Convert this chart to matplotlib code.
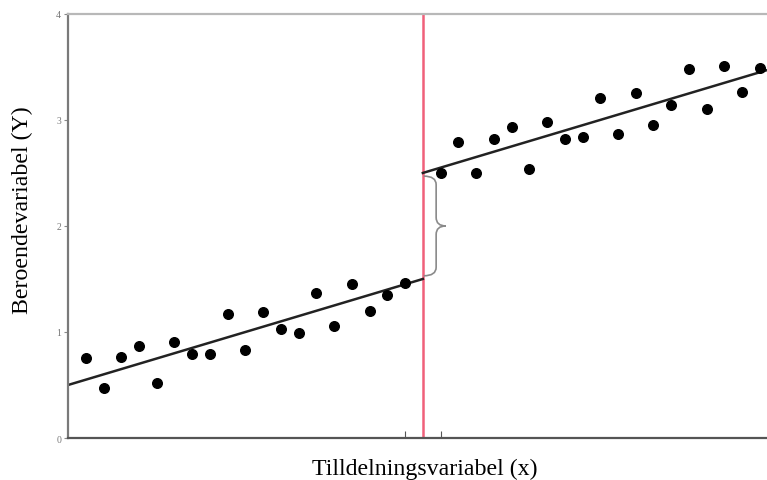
import numpy as np
import matplotlib
matplotlib.use("Agg")
import matplotlib.pyplot as plt
from matplotlib.path import Path
from matplotlib.patches import PathPatch

# data
x_left = np.arange(1, 20)
y_left = [0.75, 0.47, 0.76, 0.87, 0.52, 0.91, 0.79, 0.79, 1.17, 0.83,
          1.19, 1.03, 0.99, 1.37, 1.06, 1.45, 1.20, 1.35, 1.46]
x_right = np.arange(21, 40)
y_right = [2.50, 2.79, 2.50, 2.82, 2.93, 2.54, 2.98, 2.82, 2.84, 3.21,
           2.87, 3.25, 2.95, 3.14, 3.48, 3.10, 3.51, 3.26, 3.49]

cutoff = 20
x_max = 39.4
fit_left = [0.5, 1.5]      # line values at x=0 and at cutoff
fit_right = [2.5, 3.47]    # line values at cutoff and at x_max
y_ticks = [0, 1, 2, 3, 4]
x_ticks = [19, 21]

plt.rcParams['font.family'] = ['Liberation Serif', 'DejaVu Serif']

fig = plt.figure(figsize=(7.67, 4.81), dpi=100)
ax = fig.add_axes([0.0887, 0.0873, 0.9113, 0.8817])

ax.scatter(x_left, y_left, s=48, color='black', zorder=3)
ax.scatter(x_right, y_right, s=48, color='black', zorder=3)
ax.plot([0, cutoff], fit_left, color='#222222', lw=1.8, zorder=2)
ax.plot([cutoff, x_max], fit_right, color='#222222', lw=1.8, zorder=2)
ax.axvline(cutoff, color='#f0607a', lw=1.8, zorder=1)

# curly brace between the two fitted lines at the cutoff
y0, y1 = fit_left[1] + 0.03, fit_right[0] - 0.03
ym = (y0 + y1) / 2
xa, xb, xc = cutoff + 0.05, cutoff + 0.75, cutoff + 1.3
codes = [Path.MOVETO, Path.CURVE3, Path.CURVE3, Path.LINETO,
         Path.LINETO, Path.CURVE3, Path.CURVE3, Path.CURVE3,
         Path.CURVE3, Path.LINETO, Path.CURVE3, Path.CURVE3, Path.LINETO]
verts = [(xa, y1), (xb, y1), (xb, y1 - 0.08),
         (xb, ym + 0.08), (xb, ym + 0.08),
         (xb, ym), (xc, ym),
         (xb, ym), (xb, ym - 0.08),
         (xb, y0 + 0.08), (xb, y0), (xa, y0), (xa, y0)]
ax.add_patch(PathPatch(Path(verts, codes), fill=False, edgecolor='#8a8a8a', lw=1.2))

ax.set_xlim(0, x_max)
ax.set_ylim(0, 4)
ax.set_yticks(y_ticks)
ax.set_yticklabels([str(t) for t in y_ticks], color='#777777', fontsize=7)
ax.set_xticks(x_ticks)
ax.set_xticklabels(['', ''])
ax.tick_params(axis='x', direction='in', length=5, color='#555555')
ax.tick_params(axis='y', direction='out', length=3, color='#888888', pad=2)

ax.spines['right'].set_visible(False)
ax.spines['top'].set_color('#b8b8b8')
ax.spines['top'].set_linewidth(1.6)
ax.spines['left'].set_color('#7a7a7a')
ax.spines['left'].set_linewidth(1.6)
ax.spines['bottom'].set_color('#555555')
ax.spines['bottom'].set_linewidth(1.6)

ax.set_xlabel('Tilldelningsvariabel (x)', fontsize=17.2)
ax.set_ylabel('Beroendevariabel (Y)', fontsize=17.2)
ax.xaxis.set_label_coords(0.51, -0.047)
ax.yaxis.set_label_coords(-0.05, 0.54)

fig.savefig('out.png', dpi=100)
